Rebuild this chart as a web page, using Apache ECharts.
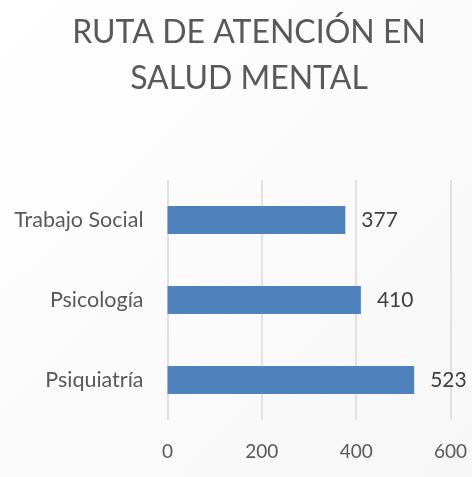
<!DOCTYPE html>
<html><head><meta charset="utf-8">
<script src="https://cdn.jsdelivr.net/npm/echarts@6/dist/echarts.min.js"></script>
<style>html,body{margin:0;padding:0;background:#fff}#c{width:472px;height:477px}</style>
</head><body><div id="c"></div>
<script>
const titleText = 'RUTA DE ATENCIÓN EN\nSALUD MENTAL';
const categories = ['Psiquiatría', 'Psicología', 'Trabajo Social'];
const values = [523, 410, 377];
const xTicks = [0, 200, 400, 600];

const chart = echarts.init(document.getElementById('c'), null, {renderer: 'canvas'});
chart.setOption({
  backgroundColor: {type: 'linear', x: 0, y: 0, x2: 1, y2: 1, colorStops: [{offset: 0, color: '#ffffff'}, {offset: 1, color: '#f7f7f7'}]},
  animation: false,
  title: {
    text: titleText, left: 244, top: 5, textAlign: 'center',
    textStyle: {fontFamily: 'Lato', fontWeight: 'normal', fontSize: 32, color: '#595959', lineHeight: 46}
  },
  grid: {left: 167.5, right: 21.5, top: 180, bottom: 57},
  xAxis: {
    type: 'value', min: xTicks[0], max: xTicks[xTicks.length - 1], interval: 200,
    axisLine: {show: false}, axisTick: {show: false},
    splitLine: {lineStyle: {color: '#d9d9d9', width: 1.5}},
    axisLabel: {fontFamily: 'Lato', fontSize: 19, color: '#595959', margin: 22}
  },
  yAxis: {
    type: 'category', data: categories,
    axisLine: {show: false}, axisTick: {show: false},
    axisLabel: {fontFamily: 'Lato', fontSize: 21.5, color: '#595959', margin: 24}
  },
  series: [{
    type: 'bar', data: values, barWidth: 28,
    itemStyle: {color: '#4f81bd'},
    label: {show: true, position: 'right', distance: 16, fontFamily: 'Lato', fontSize: 21, color: '#404040'}
  }]
});
</script></body></html>
